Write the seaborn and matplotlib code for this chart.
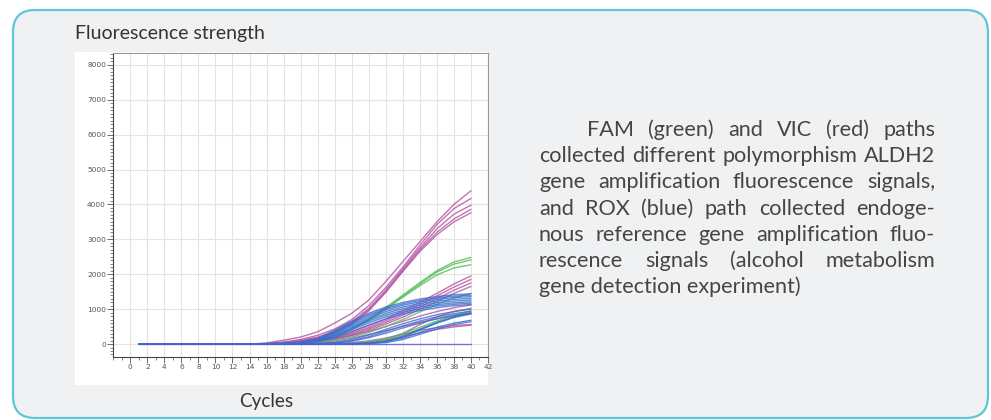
import numpy as np
import pandas as pd
import matplotlib
matplotlib.use("Agg")
import matplotlib.pyplot as plt
import seaborn as sns
from matplotlib.patches import FancyBboxPatch, Rectangle
from matplotlib.ticker import MultipleLocator

# ---------------- data ----------------
cycles = [1, 14, 16, 18, 20, 22, 24, 26, 28, 30, 32, 34, 36, 38, 40]

# VIC (magenta) curves
vic_1 = [0, 0, 30, 110, 200, 350, 600, 880, 1260, 1790, 2360, 2930, 3500, 4000, 4390]
vic_2 = [0, 0, 15, 60, 130, 250, 430, 700, 1100, 1620, 2200, 2830, 3420, 3880, 4170]
vic_3 = [0, 0, 10, 40, 100, 200, 370, 640, 1020, 1550, 2150, 2750, 3300, 3720, 3980]
vic_4 = [0, 0, 10, 35, 90, 180, 340, 600, 980, 1500, 2100, 2700, 3200, 3580, 3860]
vic_5 = [0, 0, 10, 30, 80, 160, 310, 560, 950, 1480, 2080, 2650, 3130, 3500, 3760]
vic_6 = [0, 0, 5, 20, 50, 110, 210, 350, 520, 720, 950, 1200, 1450, 1720, 1950]
vic_7 = [0, 0, 5, 15, 40, 90, 180, 310, 470, 670, 890, 1130, 1380, 1630, 1850]
vic_8 = [0, 0, 5, 15, 35, 80, 160, 280, 430, 620, 830, 1060, 1300, 1540, 1750]
vic_9 = [0, 0, 0, 10, 30, 70, 140, 250, 390, 570, 770, 990, 1220, 1450, 1650]
vic_10 = [0, 0, 5, 10, 30, 70, 140, 240, 360, 500, 650, 800, 930, 1040, 1120]
vic_11 = [0, 0, 0, 0, 0, 0, 5, 20, 50, 120, 300, 560, 780, 930, 1020]
vic_12 = [0, 0, 0, 5, 15, 40, 90, 170, 270, 380, 500, 620, 730, 830, 900]
vic_13 = [0, 0, 0, 0, 0, 5, 15, 40, 90, 170, 280, 390, 470, 530, 560]
vic_14 = [0, 0, 0, 0, 0, 0, 5, 15, 40, 100, 200, 320, 420, 490, 540]

# FAM (green) curves
fam_1 = [0, 0, 5, 20, 60, 120, 250, 450, 720, 1050, 1400, 1760, 2100, 2350, 2480]
fam_2 = [0, 0, 5, 15, 50, 110, 230, 420, 690, 1010, 1370, 1720, 2060, 2290, 2410]
fam_3 = [0, 0, 5, 15, 50, 110, 230, 420, 680, 1000, 1340, 1670, 1980, 2180, 2270]
fam_4 = [0, 0, 0, 5, 20, 50, 110, 200, 330, 500, 700, 920, 1140, 1320, 1450]
fam_5 = [0, 0, 0, 0, 0, 0, 5, 20, 60, 150, 300, 480, 660, 820, 950]
fam_6 = [0, 0, 0, 0, 0, 0, 0, 10, 40, 110, 250, 430, 610, 770, 900]

# ROX (blue) curves
rox_1 = [0, 0, 5, 20, 60, 150, 400, 650, 880, 1060, 1190, 1290, 1360, 1410, 1440]
rox_2 = [0, 0, 5, 15, 50, 130, 360, 610, 840, 1020, 1150, 1250, 1320, 1370, 1400]
rox_3 = [0, 0, 5, 15, 45, 120, 330, 570, 800, 980, 1110, 1210, 1280, 1330, 1360]
rox_4 = [0, 0, 5, 15, 40, 110, 300, 530, 750, 930, 1060, 1160, 1230, 1280, 1310]
rox_5 = [0, 0, 5, 10, 35, 100, 270, 490, 700, 880, 1010, 1110, 1180, 1230, 1260]
rox_6 = [0, 0, 0, 10, 30, 90, 240, 450, 660, 830, 960, 1060, 1130, 1180, 1210]
rox_7 = [0, 0, 0, 10, 30, 80, 210, 410, 610, 780, 910, 1010, 1090, 1140, 1170]
rox_8 = [0, 0, 0, 10, 25, 70, 180, 360, 550, 720, 860, 960, 1040, 1100, 1130]
rox_9 = [0, 0, 0, 0, 5, 15, 50, 130, 260, 420, 580, 720, 840, 930, 1000]
rox_10 = [0, 0, 0, 0, 5, 10, 40, 100, 210, 360, 520, 660, 780, 870, 940]
rox_11 = [0, 0, 0, 0, 0, 10, 30, 80, 180, 310, 460, 600, 720, 810, 880]
rox_12 = [0, 0, 0, 0, 0, 0, 0, 10, 30, 80, 220, 420, 620, 780, 880]
rox_13 = [0, 0, 0, 0, 0, 0, 0, 10, 25, 70, 200, 400, 600, 760, 860]
rox_14 = [0, 0, 0, 0, 0, 0, 0, 5, 20, 60, 170, 330, 480, 600, 680]
rox_15 = [0, 0, 0, 0, 0, 0, 0, 0, 10, 40, 130, 280, 430, 560, 640]

# negative control (flat)
ntc_1 = [0, 0, 0, 0, 0, 0, 0, 0, 0, 0, 0, 0, 0, 0, 0]

vic_curves = [vic_1, vic_2, vic_3, vic_4, vic_5, vic_6, vic_7, vic_8, vic_9,
              vic_10, vic_11, vic_12, vic_13, vic_14]
fam_curves = [fam_1, fam_2, fam_3, fam_4, fam_5, fam_6]
rox_curves = [rox_1, rox_2, rox_3, rox_4, rox_5, rox_6, rox_7, rox_8,
              rox_9, rox_10, rox_11, rox_12, rox_13, rox_14, rox_15]
ntc_curves = [ntc_1]

x_ticks = list(range(0, 43, 2))
y_ticks = list(range(0, 8001, 1000))

title_text = "Fluorescence strength"
xlabel_text = "Cycles"
para_lines = [
    "FAM (green) and VIC (red) paths",
    "collected different polymorphism ALDH2",
    "gene amplification fluorescence signals,",
    "and ROX (blue) path collected endoge-",
    "nous reference gene amplification fluo-",
    "rescence signals (alcohol metabolism",
    "gene detection experiment)",
]

# ---------------- build long table ----------------
rows = []
colors = {}
groups = [("vic", vic_curves, "#b3519f"), ("fam", fam_curves, "#4dbd55"),
          ("rox", rox_curves, "#3a6dcf"), ("ntc", ntc_curves, "#5a55d6")]
for gname, clist, col in groups:
    for i, vals in enumerate(clist):
        cid = f"{gname}_{i+1}"
        colors[cid] = col
        for c, v in zip(cycles, vals):
            rows.append({"curve": cid, "cycle": c, "value": v})
df = pd.DataFrame(rows)

# ---------------- figure ----------------
W, H = 991, 420
DPI = 100
sns.set_theme(style="white")
fig = plt.figure(figsize=(W / DPI, H / DPI), dpi=DPI)
fig.patch.set_facecolor("white")

# background pixel-space axes
bg = fig.add_axes([0, 0, 1, 1], zorder=0)
bg.set_xlim(0, W)
bg.set_ylim(H, 0)
bg.axis("off")
box = FancyBboxPatch((13, 10), 975, 408, boxstyle="round,pad=0,rounding_size=22",
                     facecolor="#f0f1f3", edgecolor="#5fc5d8", linewidth=1.6)
bg.add_patch(box)
bg.add_patch(Rectangle((75, 52), 413, 333, facecolor="white", edgecolor="none"))

fam = "Lato"
txt_color = "#454545"

# chart axes
ax = fig.add_axes([113 / W, 1 - 357 / H, (488 - 113) / W, (357 - 53) / H], zorder=2)
ax.set_facecolor("white")
sns.lineplot(data=df, x="cycle", y="value", hue="curve", palette=colors,
             legend=False, linewidth=1.0, alpha=0.8, estimator=None,
             sort=False, ax=ax)
ax.set_xlim(-2.03, 42.0)
ax.set_ylim(-372, 8338)
ax.set_xticks(x_ticks)
ax.set_yticks(y_ticks)
ax.xaxis.set_minor_locator(MultipleLocator(1))
ax.yaxis.set_minor_locator(MultipleLocator(100))
ax.set_xlabel("")
ax.set_ylabel("")
ax.grid(True, which="major", color="#e3e3e3", linewidth=0.8)
ax.set_axisbelow(True)
ax.tick_params(axis="both", which="major", direction="out", length=4, width=0.6,
               colors="#555555", labelsize=5.3, pad=1, bottom=True, left=True)
ax.tick_params(axis="both", which="minor", direction="out", length=2, width=0.5,
               colors="#555555", bottom=True, left=True)
for s in ["left", "bottom"]:
    ax.spines[s].set_color("#444444")
    ax.spines[s].set_linewidth(0.8)
for s in ["top", "right"]:
    ax.spines[s].set_color("#9a9a9a")
    ax.spines[s].set_linewidth(0.8)

fig.canvas.draw()
renderer = fig.canvas.get_renderer()

def width_px(s, size):
    t = bg.text(0, 0, s, fontsize=size, family=fam)
    w = t.get_window_extent(renderer).width
    t.remove()
    return w

# title and x label, sized to the reference widths
t_fs = 12 * 190 / width_px(title_text, 12)
bg.text(75, 33, title_text, fontsize=t_fs, color="#333333", family=fam,
        va="center", ha="left")
c_fs = 12 * 54 / width_px(xlabel_text, 12)
bg.text(266, 401, xlabel_text, fontsize=c_fs, color="#333333", family=fam,
        va="center", ha="center")

# justified paragraph on the right
left_x, right_x = 539, 935
first_x = 587
base_y0, line_step = 136, 26.2
fs = 14.0
widest = 0
for i, line in enumerate(para_lines[:-1]):
    start = first_x if i == 0 else left_x
    widest = max(widest, width_px(line, fs) / (right_x - start))
fs = fs / widest * 0.995

for i, line in enumerate(para_lines):
    y = base_y0 + i * line_step
    start = first_x if i == 0 else left_x
    if i == len(para_lines) - 1:
        bg.text(start, y, line, fontsize=fs, family=fam, color=txt_color,
                va="baseline", ha="left")
        continue
    words = line.split(" ")
    ws = [width_px(w, fs) for w in words]
    gap = (right_x - start - sum(ws)) / (len(words) - 1)
    x = start
    for w, wd in zip(words, ws):
        bg.text(x, y, w, fontsize=fs, family=fam, color=txt_color,
                va="baseline", ha="left")
        x += wd + gap

fig.savefig("out.png", dpi=DPI, facecolor="white")
